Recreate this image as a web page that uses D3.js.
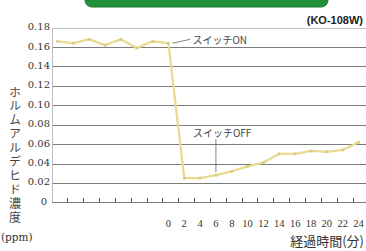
<!DOCTYPE html>
<html>
<head>
<meta charset="utf-8">
<script src="https://cdn.jsdelivr.net/npm/d3@7"></script>
<style>
  html, body { margin: 0; padding: 0; background: #fff; }
  svg { display: block; }
</style>
</head>
<body>
<svg id="chart"></svg>
<script>
// data
var minutes = [-14, -12, -10, -8, -6, -4, -2, 0, 2, 4, 6, 8, 10, 12, 14, 16, 18, 20, 22, 24];
var ppm = [0.166, 0.164, 0.168, 0.162, 0.168, 0.159, 0.166, 0.164,
           0.025, 0.025, 0.028, 0.032, 0.037, 0.041, 0.050, 0.050, 0.053, 0.052, 0.054, 0.062];
var xTickLabels = [0, 2, 4, 6, 8, 10, 12, 14, 16, 18, 20, 22, 24];
var xTickMarks = [-12, -10, -8, -6, -4, -2, 0, 2, 4, 6, 8, 10, 12, 14, 16, 18, 20, 22, 24];
var yTicks = [0, 0.02, 0.04, 0.06, 0.08, 0.10, 0.12, 0.14, 0.16, 0.18];
var yTitle = "ホルムアルデヒド濃度";

var width = 366, height = 251;
var left = 52, right = 366;
var LineColor = "#e8da90", TextColor = "#333", GridColor = "#7a7a7a";
var serif = "'DejaVu Serif', serif";
var jp = "'Noto Sans CJK JP', sans-serif";

var svg = d3.select("#chart")
    .attr("width", width)
    .attr("height", height);

var x = d3.scaleLinear().domain([-14, 24]).range([57.5, 358.5]);
var y = d3.scaleLinear().domain([0, 0.18]).range([202.3, 27.7]);

// green banner at top (cut off)
svg.append("rect")
    .attr("x", 85).attr("y", -20)
    .attr("width", 243).attr("height", 27)
    .attr("rx", 7)
    .style("fill", "#22903a")
    .style("stroke", "#17742b")
    .style("stroke-width", 1);

// grid lines
svg.selectAll("line.grid")
    .data(yTicks)
  .enter().append("line")
    .attr("class", "grid")
    .attr("x1", left).attr("x2", right)
    .attr("y1", function(d) { return Math.round(y(d)) + 0.5; })
    .attr("y2", function(d) { return Math.round(y(d)) + 0.5; })
    .style("stroke", function(d) { return d === 0.18 ? "#c4c4c4" : GridColor; })
    .style("stroke-width", 1);

// y axis line
svg.append("line")
    .attr("x1", left + 0.5).attr("x2", left + 0.5)
    .attr("y1", y(0.18)).attr("y2", y(0))
    .style("stroke", "#bbb");

// y tick labels
svg.selectAll("text.ylab")
    .data(yTicks)
  .enter().append("text")
    .attr("class", "ylab")
    .attr("x", function(d) { return d === 0 ? 47 : 50; })
    .attr("y", function(d) { return y(d) - 1; })
    .attr("dy", "0.35em")
    .attr("text-anchor", "end")
    .style("font-family", serif)
    .style("font-size", "10px")
    .attr("fill", TextColor)
    .text(function(d) { return d === 0 ? "0" : d.toFixed(2); });

// x tick marks (sit a little left of each point)
svg.selectAll("line.xtick")
    .data(xTickMarks)
  .enter().append("line")
    .attr("class", "xtick")
    .attr("x1", function(d) { return Math.round(x(d) - 6) + 0.5; })
    .attr("x2", function(d) { return Math.round(x(d) - 6) + 0.5; })
    .attr("y1", y(0) - 4.5).attr("y2", y(0))
    .style("stroke", "#555");

// x tick labels
svg.selectAll("text.xlab")
    .data(xTickLabels)
  .enter().append("text")
    .attr("class", "xlab")
    .attr("x", function(d) { return x(d); })
    .attr("y", 227)
    .attr("text-anchor", "middle")
    .style("font-family", "'Liberation Serif', serif")
    .style("font-size", "10.5px")
    .attr("fill", TextColor)
    .text(function(d) { return d; });

// the series line
var points = minutes.map(function(m, i) { return [m, ppm[i]]; });
var line = d3.line()
    .x(function(d) { return x(d[0]); })
    .y(function(d) { return y(d[1]); });

svg.append("path")
    .datum(points)
    .attr("d", line)
    .style("fill", "none")
    .style("stroke", LineColor)
    .style("stroke-width", 2.3)
    .style("stroke-linejoin", "round");

svg.selectAll("circle.pt")
    .data(points)
  .enter().append("circle")
    .attr("class", "pt")
    .attr("cx", function(d) { return x(d[0]); })
    .attr("cy", function(d) { return y(d[1]); })
    .attr("r", 1.5)
    .style("fill", "#dccb7c");

// annotations
var onPt = points[7], offPt = points[10];
svg.append("line")
    .attr("x1", x(onPt[0]) + 4).attr("y1", y(onPt[1]))
    .attr("x2", x(onPt[0]) + 22).attr("y2", y(onPt[1]) - 4)
    .style("stroke", "#666").style("stroke-width", 0.8);
svg.append("text")
    .attr("x", x(onPt[0]) + 24).attr("y", 44)
    .style("font-family", jp).style("font-size", "10px")
    .attr("fill", "#444")
    .text("スイッチON");

svg.append("line")
    .attr("x1", x(offPt[0])).attr("x2", x(offPt[0]))
    .attr("y1", 139).attr("y2", y(offPt[1]) - 3)
    .style("stroke", "#666").style("stroke-width", 0.8);
svg.append("text")
    .attr("x", x(offPt[0]) - 23).attr("y", 137)
    .style("font-family", jp).style("font-size", "10px")
    .attr("fill", "#444")
    .text("スイッチOFF");

// model name
svg.append("text")
    .attr("x", 363).attr("y", 24)
    .attr("text-anchor", "end")
    .style("font-family", "'Liberation Sans', sans-serif")
    .style("font-size", "11px")
    .style("font-weight", "bold")
    .attr("fill", "#222")
    .text("(KO-108W)");

// vertical y title, one text in vertical writing mode
svg.append("text")
    .attr("x", 15)
    .attr("y", 86)
    .style("writing-mode", "vertical-rl")
    .style("letter-spacing", "1.9px")
    .style("font-family", jp).style("font-size", "12px")
    .attr("fill", "#444")
    .text(yTitle);

svg.append("text")
    .attr("x", 1).attr("y", 241)
    .style("font-family", serif).style("font-size", "10.5px")
    .attr("fill", TextColor)
    .text("(ppm)");

svg.append("text")
    .attr("x", 364).attr("y", 246)
    .attr("text-anchor", "end")
    .style("font-family", jp).style("font-size", "13px")
    .attr("fill", "#333")
    .text("経過時間(分)");
</script>
</body>
</html>
